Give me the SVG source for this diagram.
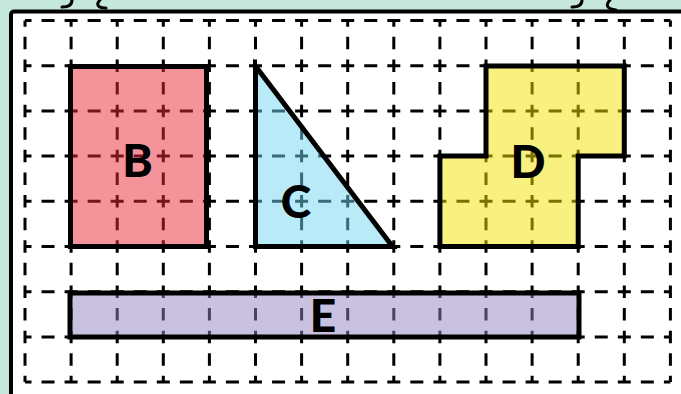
<svg xmlns="http://www.w3.org/2000/svg" width="681" height="394" viewBox="0 0 681 394">
<style>
.grid line{stroke:#000;stroke-width:3;fill:none}
.h{stroke-dasharray:13 10.05;stroke-dashoffset:6.5}
.v{stroke-dasharray:12.5 10.1;stroke-dashoffset:6.25}
.shape{stroke:#000;stroke-width:5;fill-opacity:0.5;stroke-linejoin:miter}
.lbl{font-family:"Lato","Open Sans","Liberation Sans",sans-serif;font-weight:900;font-size:46px;text-anchor:middle;fill:#000}
.squig{stroke:#000;stroke-width:3;fill:none;stroke-linecap:round}
</style>
<rect x="0" y="0" width="681" height="394" fill="#c6e8dc"/>
<g id="clips">
<path class="squig" d="M72 0 C72 5 68 7 62 7"/>
<path class="squig" d="M100 0 C96 4 97 8 106 8"/>
<path class="squig" d="M582 0 C582 5 578 7 572 7"/>
<path class="squig" d="M610 0 C605 5 607 9 616 10"/>
</g>
<rect id="board" x="11" y="11.5" width="690" height="400" rx="3" fill="#fff" stroke="#000" stroke-width="4"/>
<g id="grid" class="grid">
<line class="h" x1="25" y1="20.5" x2="670.4" y2="20.5"/>
<line class="h" x1="25" y1="65.7" x2="670.4" y2="65.7"/>
<line class="h" x1="25" y1="110.9" x2="670.4" y2="110.9"/>
<line class="h" x1="25" y1="156.1" x2="670.4" y2="156.1"/>
<line class="h" x1="25" y1="201.3" x2="670.4" y2="201.3"/>
<line class="h" x1="25" y1="246.5" x2="670.4" y2="246.5"/>
<line class="h" x1="25" y1="291.7" x2="670.4" y2="291.7"/>
<line class="h" x1="25" y1="336.9" x2="670.4" y2="336.9"/>
<line class="h" x1="25" y1="382" x2="670.4" y2="382"/>
<line class="v" x1="25" y1="20.5" x2="25" y2="382"/>
<line class="v" x1="71.1" y1="20.5" x2="71.1" y2="382"/>
<line class="v" x1="117.2" y1="20.5" x2="117.2" y2="382"/>
<line class="v" x1="163.3" y1="20.5" x2="163.3" y2="382"/>
<line class="v" x1="209.4" y1="20.5" x2="209.4" y2="382"/>
<line class="v" x1="255.5" y1="20.5" x2="255.5" y2="382"/>
<line class="v" x1="301.6" y1="20.5" x2="301.6" y2="382"/>
<line class="v" x1="347.7" y1="20.5" x2="347.7" y2="382"/>
<line class="v" x1="393.8" y1="20.5" x2="393.8" y2="382"/>
<line class="v" x1="439.9" y1="20.5" x2="439.9" y2="382"/>
<line class="v" x1="486" y1="20.5" x2="486" y2="382"/>
<line class="v" x1="532.1" y1="20.5" x2="532.1" y2="382"/>
<line class="v" x1="578.2" y1="20.5" x2="578.2" y2="382"/>
<line class="v" x1="624.3" y1="20.5" x2="624.3" y2="382"/>
<line class="v" x1="670.4" y1="20.5" x2="670.4" y2="382"/>
</g>
<g id="B">
<rect class="shape" x="70.5" y="66.5" width="136" height="180" fill="#e92735"/>
<text class="lbl" x="137.5" y="177">B</text>
</g>
<g id="C">
<polygon class="shape" points="255.5,66 255.5,246.5 392.5,246.5" fill="#71d5ef"/>
<text class="lbl" x="296" y="218">C</text>
</g>
<g id="D">
<polygon class="shape" points="486,66 624.3,66 624.3,156.1 578.2,156.1 578.2,246.5 439.9,246.5 439.9,156.1 486,156.1" fill="#f1e100"/>
<text class="lbl" x="528" y="178">D</text>
</g>
<g id="E">
<rect class="shape" x="70" y="293" width="509" height="44" fill="#9185c1"/>
<text class="lbl" x="323" y="331.5">E</text>
</g>
</svg>
